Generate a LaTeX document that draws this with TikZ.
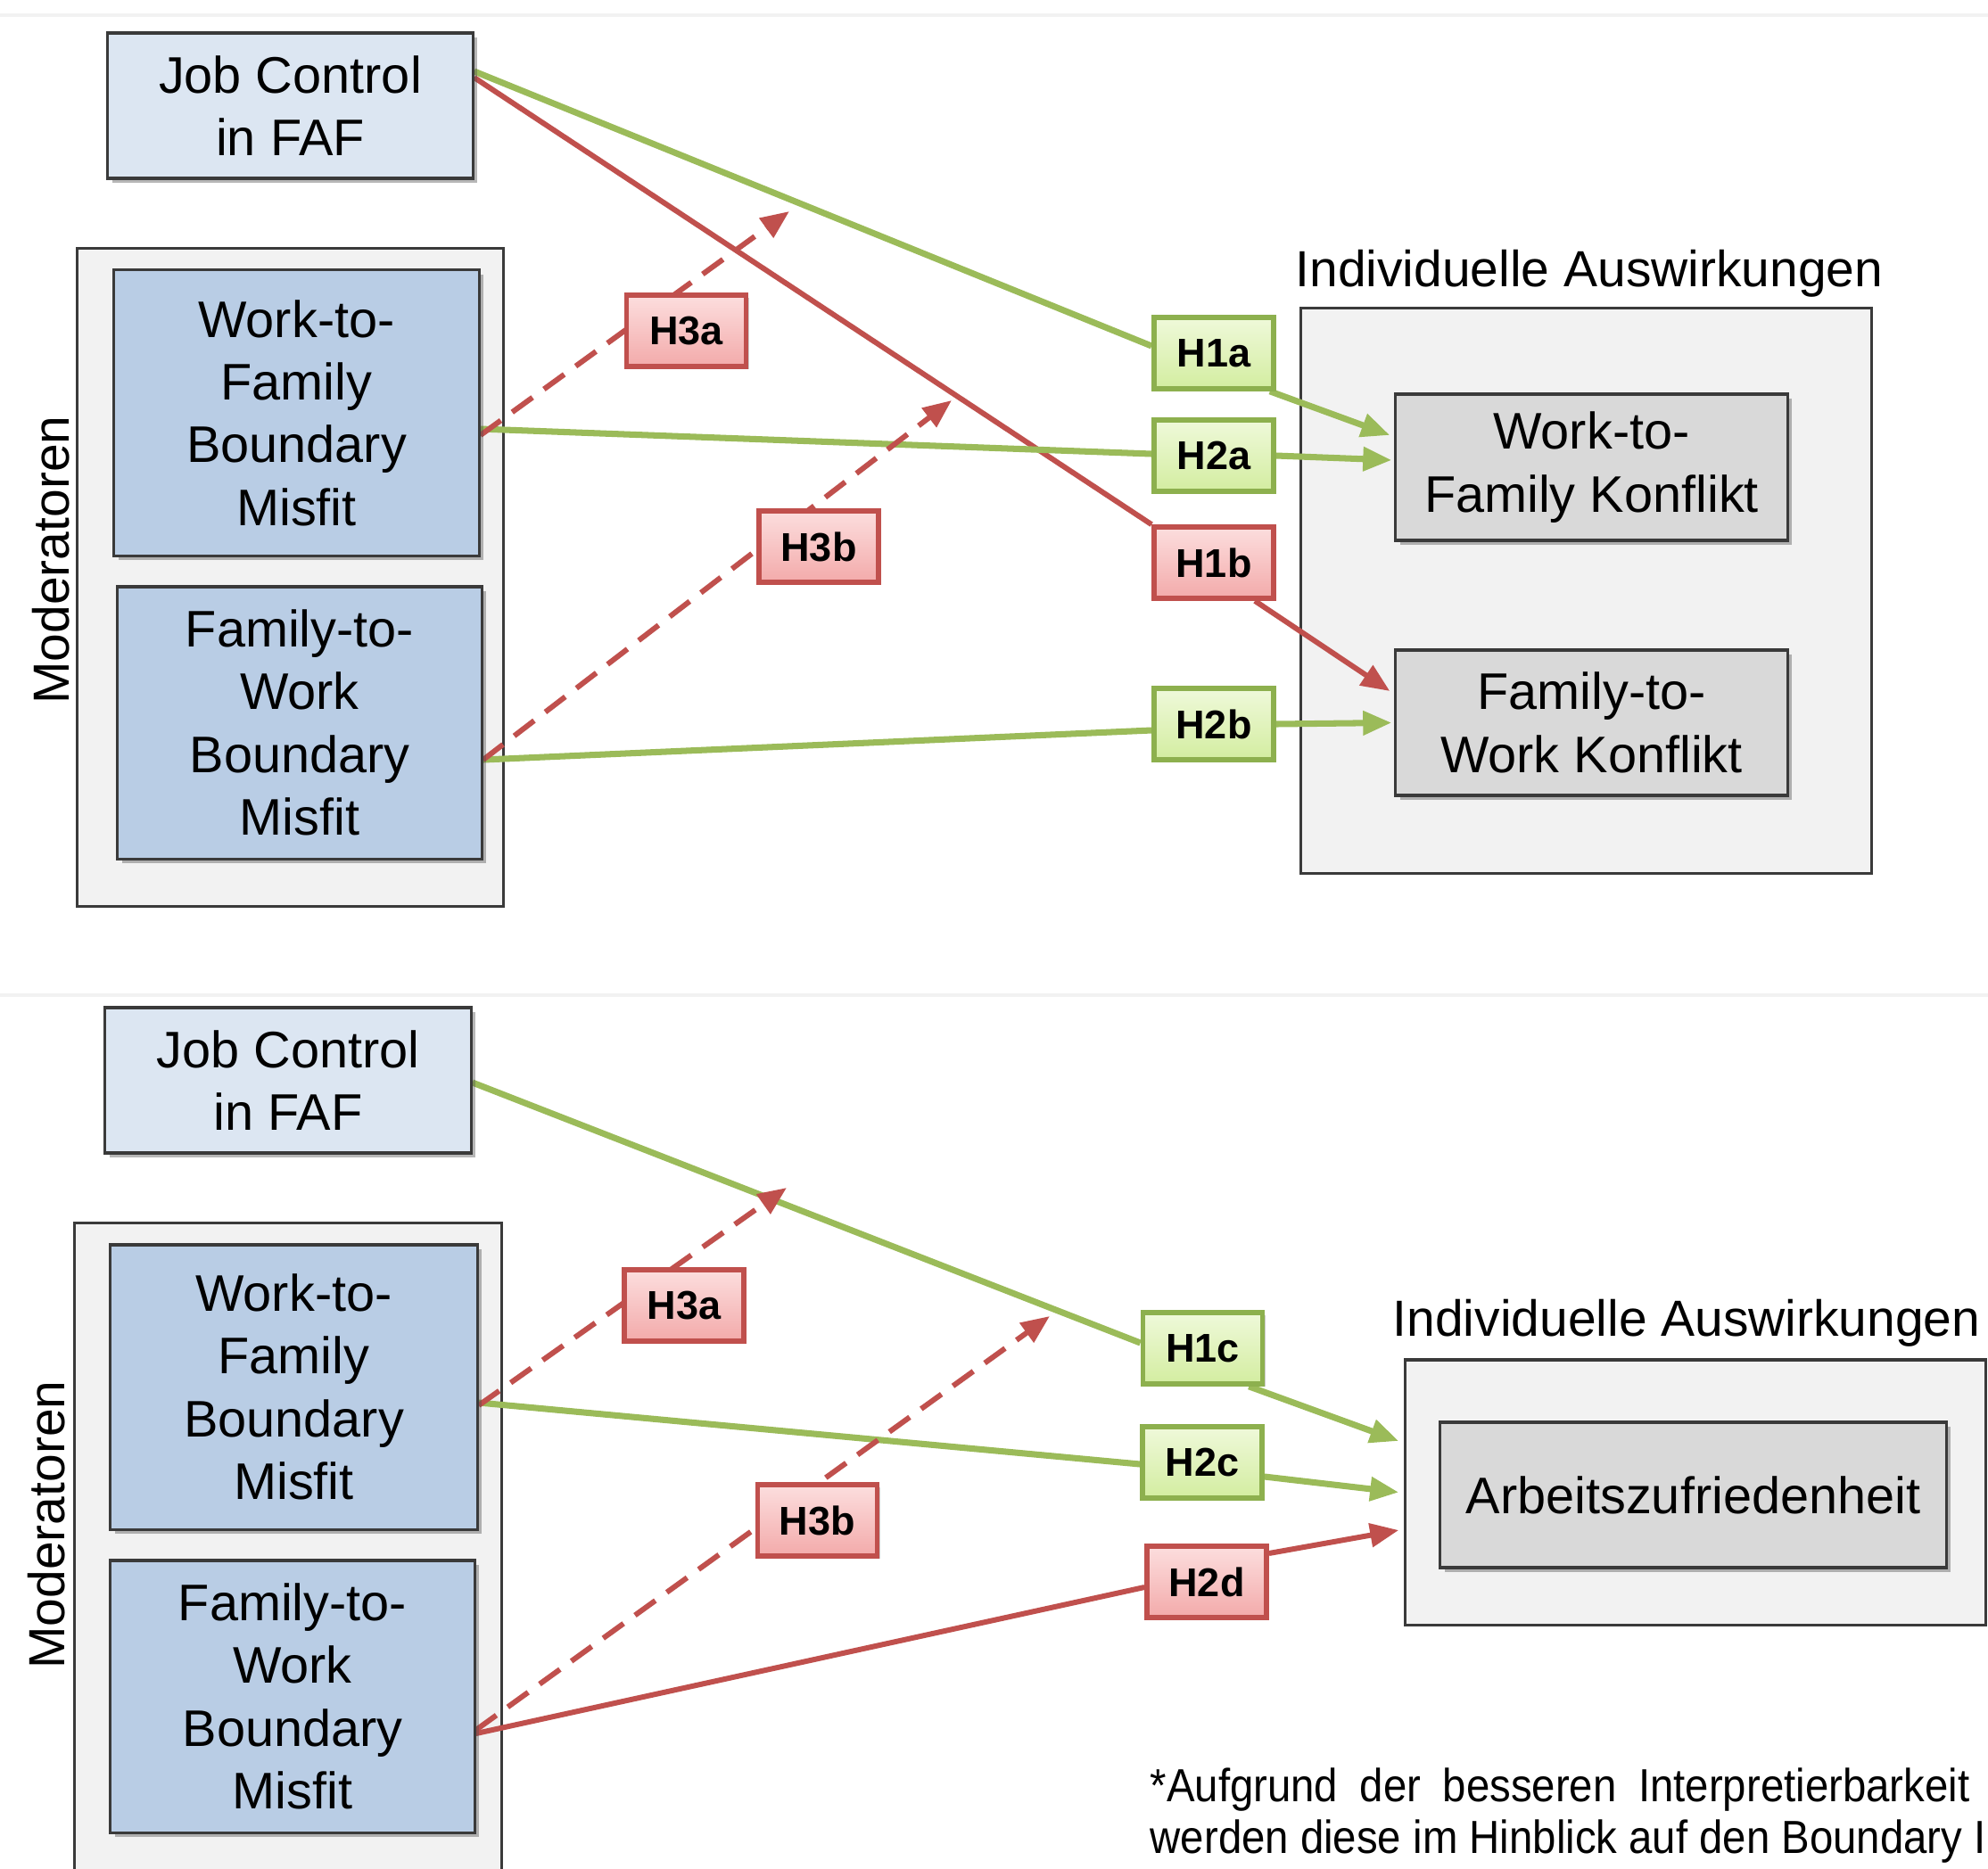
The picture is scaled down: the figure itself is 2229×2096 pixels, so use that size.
\documentclass[tikz,border=0pt]{standalone}
\usepackage{fontspec}
\usepackage{graphicx}
\setmainfont{Liberation Sans}
\usetikzlibrary{arrows.meta,shadows}
\definecolor{grn}{HTML}{9BBB59}
\definecolor{grnB}{HTML}{8DB04E}
\definecolor{grnT}{HTML}{EFF9DA}
\definecolor{grnBot}{HTML}{D3EDA0}
\definecolor{rd}{HTML}{C0504D}
\definecolor{rdB}{HTML}{C0504D}
\definecolor{rdT}{HTML}{FCDEDE}
\definecolor{rdBot}{HTML}{F3AAAA}
\definecolor{jcfill}{HTML}{DCE6F2}
\definecolor{modfill}{HTML}{B9CDE5}
\definecolor{konfill}{HTML}{D9D9D9}
\definecolor{outfill}{HTML}{F2F2F2}
\definecolor{bord}{HTML}{3A3A3A}
\pgfdeclarelayer{back}
\pgfdeclarelayer{mid}
\pgfsetlayers{back,mid,main}
\tikzset{
  box/.style={draw=bord, line width=0.9pt, align=center, inner sep=0pt,
    font=\fontsize{16.4}{20}\selectfont,
    drop shadow={shadow xshift=0.05cm, shadow yshift=-0.05cm, opacity=0.4, fill=black!70}},
  outer/.style={draw=bord, line width=0.9pt, fill=outfill, inner sep=0pt},
  jcbox/.style={box, fill=jcfill},
  modbox/.style={box, fill=modfill},
  konbox/.style={box, fill=konfill},
  hyp/.style={line width=1.6pt, minimum width=1.34cm, minimum height=0.80cm, inner sep=0pt,
    font=\fontsize{12.8}{14}\selectfont\bfseries,
    drop shadow={shadow xshift=0.03cm, shadow yshift=-0.03cm, opacity=0.2, fill=black}},
  hg/.style={hyp, draw=grnB, top color=grnT, bottom color=grnBot},
  hr/.style={hyp, draw=rdB, top color=rdT, bottom color=rdBot},
  gline/.style={draw=grn, line width=2pt},
  rline/.style={draw=rd, line width=1.7pt},
  dline/.style={draw=rd, line width=1.7pt, dash pattern=on 8pt off 4.5pt},
  tipA/.style={-{Triangle[length=0.32cm,width=0.26cm]}},
  sz/.style 2 args={minimum width=#1, minimum height=#2},
  lbl/.style={inner sep=0pt, font=\fontsize{16.2}{18}\selectfont},
  fnote/.style={inner sep=0pt, font=\fontsize{14.8}{17}\selectfont},
}
\begin{document}
\begin{tikzpicture}[x=0.01cm, y=-0.01cm]
\useasboundingbox (0,0) rectangle (2229,2096);
\begin{pgfonlayer}{back}
\fill[white] (0,0) rectangle (2229,2096);
\draw[gray!10, line width=1pt] (0,17) -- (2229,17);
\draw[gray!10, line width=1pt] (0,1116) -- (2229,1116);
\end{pgfonlayer}

% ---------------- top panel ----------------
\begin{pgfonlayer}{back}
\node[outer, sz={4.77cm}{7.37cm}] (mod1) at (325.5,647.5) {};
\node[outer, sz={6.39cm}{6.33cm}] (ind1) at (1778.5,662.5) {};
\end{pgfonlayer}
\node[lbl, rotate=90] (modt1) at (57,628) {Moderatoren};
\node[lbl] (indt1) at (1782,307) {Individuelle Auswirkungen};

\node[jcbox, sz={4.09cm}{1.63cm}] (jc1) at (325.5,118.5) {Job Control\\in FAF};
\node[modbox, sz={4.09cm}{3.20cm}] (w2f1) at (332.5,463) {Work-to-\\Family\\Boundary\\Misfit};
\node[modbox, sz={4.08cm}{3.05cm}] (f2w1) at (336,810.5) {Family-to-\\Work\\Boundary\\Misfit};
\node[konbox, sz={4.39cm}{1.64cm}] (wfk1) at (1784.5,524) {Work-to-\\Family Konflikt};
\node[konbox, sz={4.39cm}{1.63cm}] (fwk1) at (1784.5,810.5) {Family-to-\\Work Konflikt};

\node[hg] (h1a) at (1361,396) {H1a};
\node[hg] (h2a) at (1361,511) {H2a};
\node[hr] (h1b) at (1361,631) {H1b};
\node[hg] (h2b) at (1361,812) {H2b};
\node[hr] (h3a1) at (769.5,371) {H3a};
\node[hr] (h3b1) at (918,613) {H3b};

\coordinate (m1) at (885,237);
\coordinate (m2) at (1067,449);

\begin{pgfonlayer}{mid}
\draw[gline] ([yshift=0.385cm]jc1.east) -- ([yshift=0.08cm]h1a.west);
\draw[gline, tipA] ([xshift=-0.07cm]h1a.south east) -- ([xshift=-0.05cm, yshift=0.36cm]wfk1.west);
\draw[rline] ([yshift=0.315cm]jc1.east) -- (h1b.north west);
\draw[rline, tipA] ([xshift=0.46cm]h1b.south) -- ([xshift=-0.05cm, yshift=0.355cm]fwk1.west);
\draw[gline] ([yshift=-0.18cm]w2f1.east) -- ([yshift=0.02cm]h2a.west);
\draw[gline, tipA] (h2a.east) -- ([xshift=-0.03cm, yshift=0.08cm]wfk1.west);
\draw[gline] ([yshift=-0.415cm]f2w1.east) -- ([yshift=-0.07cm]h2b.west);
\draw[gline, tipA] (h2b.east) -- ([xshift=-0.03cm]fwk1.west);
\draw[dline, tipA] ([yshift=-0.25cm]w2f1.east) -- (m1);
\draw[dline, tipA] ([yshift=-0.415cm]f2w1.east) -- (m2);
\end{pgfonlayer}

% ---------------- bottom panel ----------------
\begin{pgfonlayer}{back}
\node[outer, sz={4.78cm}{7.48cm}] (mod2) at (323,1746) {};
\node[outer, sz={6.50cm}{2.97cm}] (ind2) at (1901,1673.5) {};
\end{pgfonlayer}
\node[lbl, rotate=90] (modt2) at (52,1710) {Moderatoren};
\node[lbl, anchor=west] (indt2) at (1561,1484) {Individuelle Auswirkungen};

\node[jcbox, sz={4.10cm}{1.63cm}] (jc2) at (323,1211.5) {Job Control\\in FAF};
\node[modbox, sz={4.11cm}{3.19cm}] (w2f2) at (329.5,1555.5) {Work-to-\\Family\\Boundary\\Misfit};
\node[modbox, sz={4.08cm}{3.05cm}] (f2w2) at (328,1902.5) {Family-to-\\Work\\Boundary\\Misfit};
\node[konbox, sz={5.67cm}{1.63cm}] (arb) at (1898.5,1676.5) {Arbeitszufriedenheit};

\node[hg] (h1c) at (1348.5,1512) {H1c};
\node[hg] (h2c) at (1348,1640) {H2c};
\node[hr] (h2d) at (1353,1774) {H2d};
\node[hr] (h3a2) at (767,1464) {H3a};
\node[hr] (h3b2) at (916.5,1705) {H3b};

\coordinate (m3) at (882,1332);
\coordinate (m4) at (1177,1476);

\begin{pgfonlayer}{mid}
\draw[gline] ([yshift=-0.025cm]jc2.east) -- ([yshift=0.06cm]h1c.west);
\draw[gline, tipA] ([xshift=-0.18cm]h1c.south east) -- ([xshift=-0.06cm, yshift=0.575cm]ind2.west);
\draw[gline] ([yshift=-0.175cm]w2f2.east) -- ([yshift=-0.02cm]h2c.west);
\draw[gline, tipA] ([yshift=-0.16cm]h2c.east) -- ([xshift=-0.06cm]ind2.west);
\draw[rline] ([yshift=-0.415cm]f2w2.east) -- ([yshift=-0.06cm]h2d.west);
\draw[rline, tipA] ([yshift=0.32cm]h2d.east) -- ([xshift=-0.06cm, yshift=-0.425cm]ind2.west);
\draw[dline, tipA] ([yshift=-0.205cm]w2f2.east) -- (m3);
\draw[dline, tipA] ([yshift=-0.375cm]f2w2.east) -- (m4);
\end{pgfonlayer}

\node[fnote, anchor=base west] (fn1) at (1289,2020) {\scalebox{0.91}[1]{\makebox[10.09cm][s]{*Aufgrund der besseren Interpretierbarkeit}}};
\node[fnote, anchor=base west] (fn2) at (1289,2078) {\scalebox{0.91}[1]{werden diese im Hinblick auf den Boundary I}};
\end{tikzpicture}
\end{document}
